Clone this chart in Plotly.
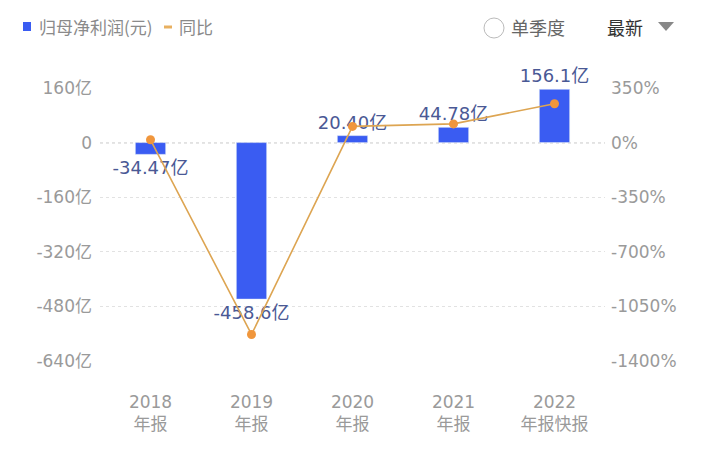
import plotly.graph_objects as go

categories = ["2018<br>年报", "2019<br>年报", "2020<br>年报", "2021<br>年报", "2022<br>年报快报"]
profit_yi = [-34.47, -458.6, 20.40, 44.78, 156.1]
profit_labels = ["-34.47亿", "-458.6亿", "20.40亿", "44.78亿", "156.1亿"]
yoy_pct = [18, -1230, 104, 120, 249]

left_ticks = [160, 0, -160, -320, -480, -640]
left_tick_text = ["160亿", "0", "-160亿", "-320亿", "-480亿", "-640亿"]
right_ticks = [350, 0, -350, -700, -1050, -1400]
right_tick_text = ["350%", "0%", "-350%", "-700%", "-1050%", "-1400%"]

FONT = "DejaVu Sans, Noto Sans CJK SC"
CJK = "Noto Sans CJK SC"
BAR = "#3A5CF2"
LINE = "#DDA552"
MARK = "#F0963C"
LABEL = "#4A5995"
GRAY = "#9A9A9A"

fig = go.Figure()
fig.add_trace(go.Bar(
    x=categories, y=profit_yi, marker_color=BAR, width=0.3,
    text=profit_labels, textposition="outside", cliponaxis=False,
    textfont=dict(family=FONT, size=18, color=LABEL), constraintext="none",
    yaxis="y", showlegend=False, hoverinfo="skip"))
fig.add_trace(go.Scatter(
    x=categories, y=yoy_pct, mode="lines+markers", yaxis="y2",
    line=dict(color=LINE, width=1.6), marker=dict(color=MARK, size=9),
    cliponaxis=False, showlegend=False, hoverinfo="skip"))

fig.add_shape(type="line", xref="paper", yref="y", x0=0, x1=1, y0=0, y1=0,
              line=dict(color="#9a9a9a", width=1.3, dash="dot"), layer="below")

fig.update_layout(
    width=710, height=454,
    margin=dict(l=100, r=105, t=88, b=93),
    paper_bgcolor="white", plot_bgcolor="white",
    font=dict(family=FONT, color=GRAY),
    xaxis=dict(showgrid=False, showline=False, ticks="",
               tickfont=dict(family=FONT, size=17, color=GRAY),
               ticklabelstandoff=29),
    yaxis=dict(range=[-640, 160], tickvals=left_ticks, ticktext=left_tick_text,
               showgrid=True, gridcolor="#e2e2e2", griddash="dot", gridwidth=1.2,
               zeroline=False, showline=False, ticks="", ticklabelstandoff=7,
               tickfont=dict(family=FONT, size=17, color=GRAY)),
    yaxis2=dict(range=[-1400, 350], tickvals=right_ticks, ticktext=right_tick_text,
                overlaying="y", side="right", showgrid=False, zeroline=False,
                showline=False, ticks="", ticklabelstandoff=5,
                tickfont=dict(family=FONT, size=17, color=GRAY)),
)


def px_x(x):
    return (x - 100) / 505


def px_y(y):
    return (361 - y) / 273


# header legend / controls
fig.add_shape(type="rect", xref="paper", yref="paper", x0=px_x(23), x1=px_x(31),
              y0=px_y(31), y1=px_y(22), fillcolor=BAR, line=dict(width=0))
fig.add_annotation(x=px_x(37), y=px_y(27), xref="paper", yref="paper",
                   xanchor="left", yanchor="middle",
                   text="归母净利润(元)", showarrow=False,
                   font=dict(family=CJK, size=17, color="#8a8a8a"))
fig.add_shape(type="line", xref="paper", yref="paper", x0=px_x(164), x1=px_x(172),
              y0=px_y(27), y1=px_y(27), line=dict(color="#E8B060", width=3))
fig.add_annotation(x=px_x(177), y=px_y(27), xref="paper", yref="paper",
                   xanchor="left", yanchor="middle",
                   text="同比", showarrow=False,
                   font=dict(family=CJK, size=17, color="#8a8a8a"))
fig.add_shape(type="circle", xref="paper", yref="paper", x0=px_x(484), x1=px_x(504),
              y0=px_y(38), y1=px_y(18), line=dict(color="#bbbbbb", width=1), fillcolor="white")
fig.add_annotation(x=px_x(509), y=px_y(27), xref="paper", yref="paper",
                   xanchor="left", yanchor="middle",
                   text="单季度", showarrow=False,
                   font=dict(family=CJK, size=18, color="#666666"))
fig.add_annotation(x=px_x(605), y=px_y(27), xref="paper", yref="paper",
                   xanchor="left", yanchor="middle",
                   text="最新", showarrow=False,
                   font=dict(family=CJK, size=18, color="#333333"))
fig.add_shape(type="path", xref="paper", yref="paper",
              path=f"M {px_x(658)} {px_y(22)} L {px_x(674)} {px_y(22)} L {px_x(666)} {px_y(31)} Z",
              fillcolor="#888888", line=dict(width=0))

fig.write_html("out.html", config={"displayModeBar": False},
               post_script="document.body.style.margin='0';document.body.style.overflow='hidden';")
